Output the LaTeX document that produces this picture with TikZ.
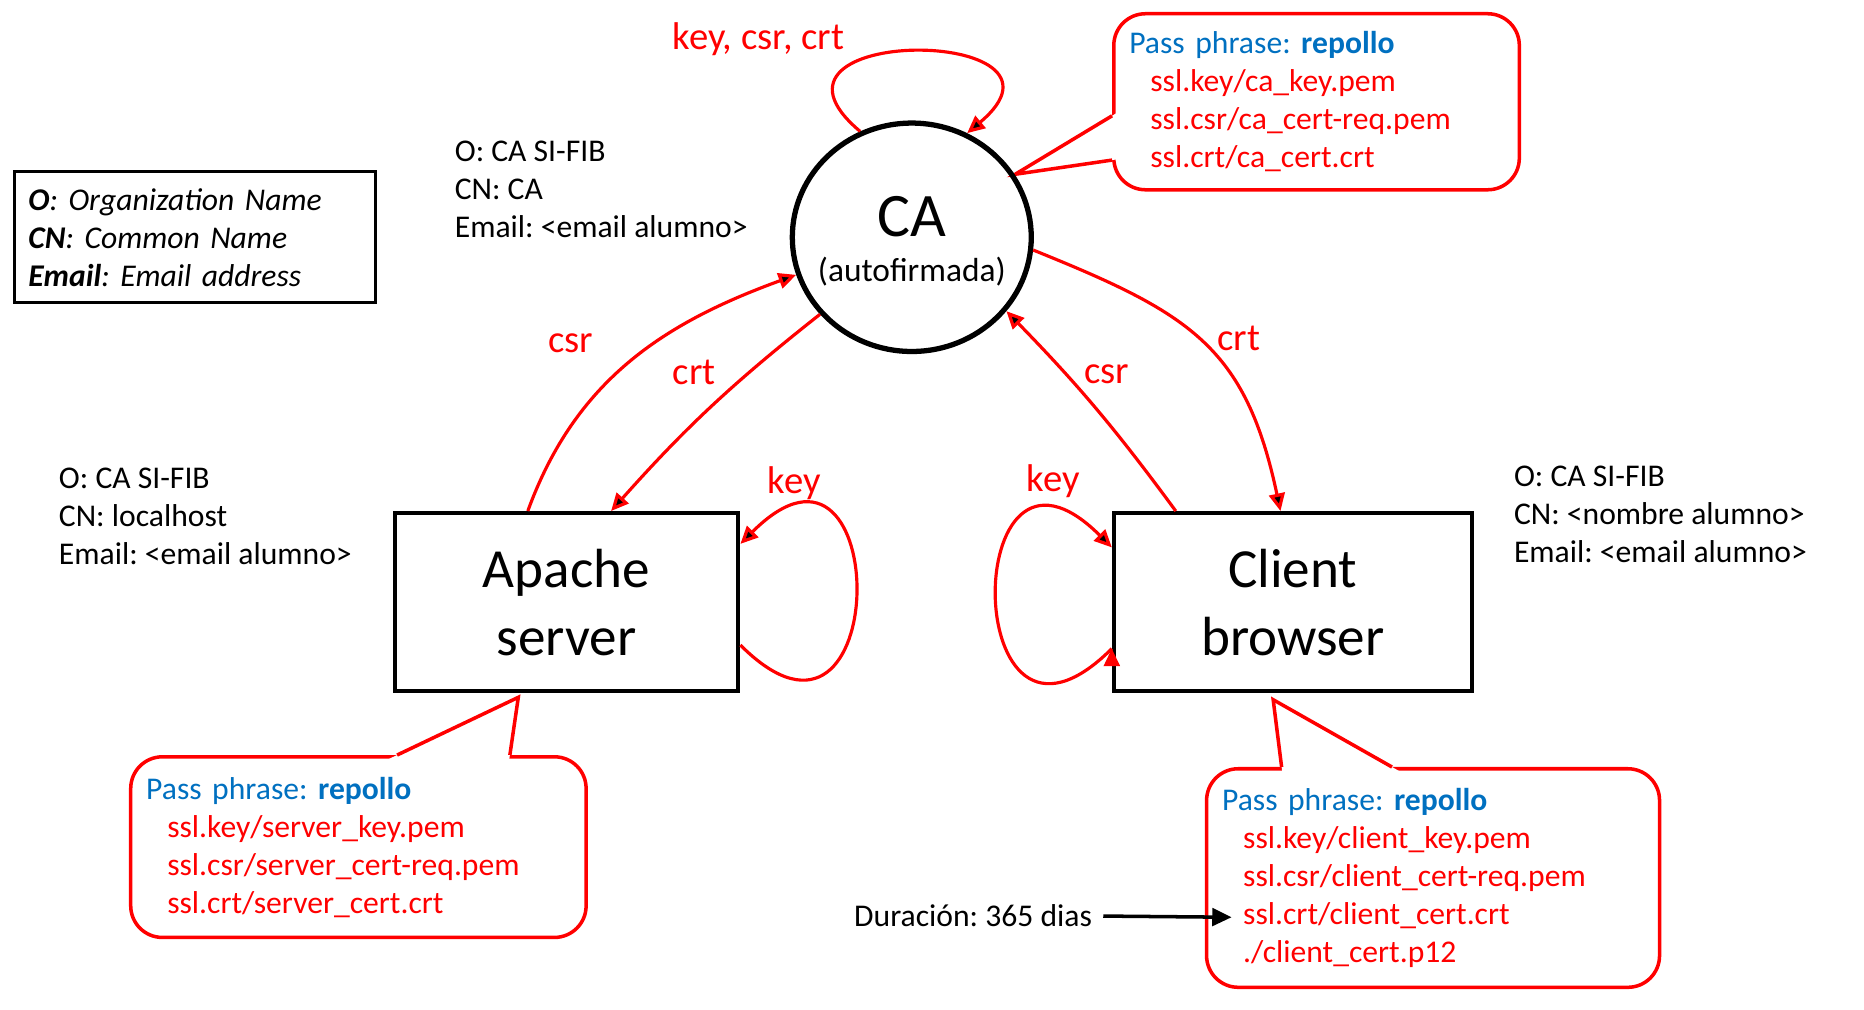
\documentclass[tikz,border=0pt]{standalone}
\usepackage{fontspec}
\setmainfont{Carlito}
\usetikzlibrary{arrows.meta,shapes.geometric,positioning,calc}
\definecolor{certred}{RGB}{255,0,0}
\definecolor{passblue}{RGB}{0,112,192}
\tikzset{>={Triangle[length=5pt,width=4.5pt]},
  info/.style={align=left,inner sep=0pt,font=\fontsize{9}{10.8}\selectfont},
  host/.style={draw,line width=1.2pt,minimum height=50.7pt,align=center,font=\fontsize{15.7}{19.3}\selectfont},
  flow/.style={->,draw=certred,line width=0.9pt},
  flowlabel/.style={text=certred,inner sep=0pt,font=\fontsize{11}{13}\selectfont},
  callout/.style={draw=certred,line width=1pt,rounded corners=9pt,align=left,inner xsep=4.4pt,text=certred,font=\fontsize{9}{10.8}\selectfont},
  pointer/.style={draw=certred,line width=1pt,line join=miter}}
\newcommand{\passline}{{\color{passblue}Pass phrase: \textbf{repollo}}}
\newcommand{\sslfile}[1]{\hspace*{6pt}#1}
\frenchspacing

\begin{document}
\begin{tikzpicture}[x=0.3383pt,y=0.3383pt]
  \useasboundingbox (0,0) rectangle (1568,849.6);

  \node[draw,line width=0.9pt,minimum width=102.8pt,minimum height=37.2pt,text width=94.8pt,inner xsep=4pt,align=left,font=\fontsize{9}{10.8}\selectfont\itshape] (legend) at (164,650)
    {\textbf{O}: Organization Name\\ \textbf{CN}: Common Name\\ \textbf{Email}: Email address};

  \node[info,anchor=west] (cainfo) at (382,690) {O: CA SI-FIB\\ CN: CA\\ Email: <email alumno>};
  \node[info,anchor=west] (apacheinfo) at (49,415) {O: CA SI-FIB\\ CN: localhost\\ Email: <email alumno>};
  \node[info,anchor=west] (clientinfo) at (1273,417) {O: CA SI-FIB\\ CN: <nombre alumno>\\ Email: <email alumno>};

  % callouts
  \node[callout,minimum height=50.1pt,text width=106.6pt] (cacall) at (1107.5,764)
    {\passline\\ \sslfile{ssl.key/ca\_key.pem}\\ \sslfile{ssl.csr/ca\_cert-req.pem}\\ \sslfile{ssl.crt/ca\_cert.crt}};
  \node[callout,minimum height=51.4pt,text width=120.8pt] (apachecall) at (301.5,137)
    {\passline\\ \sslfile{ssl.key/server\_key.pem}\\ \sslfile{ssl.csr/server\_cert-req.pem}\\ \sslfile{ssl.crt/server\_cert.crt}};
  \node[callout,minimum height=62.2pt,text width=120.1pt] (clientcall) at (1205.5,111)
    {\passline\\ \sslfile{ssl.key/client\_key.pem}\\ \sslfile{ssl.csr/client\_cert-req.pem}\\ \sslfile{ssl.crt/client\_cert.crt}\\ \sslfile{./client\_cert.p12}};

  \coordinate (catip) at (854,703);
  \coordinate (cab1) at ([yshift=-4pt]cacall.west);
  \coordinate (cab2) at ([yshift=-16.6pt]cacall.west);
  \coordinate (apachetip) at (436,263);
  \coordinate (apacheb1) at ([xshift=11pt]apachecall.north);
  \coordinate (apacheb2) at ([xshift=43.1pt]apachecall.north);
  \coordinate (clienttip) at (1071,261);
  \coordinate (clientb1) at ([xshift=-43.1pt]clientcall.north);
  \coordinate (clientb2) at ([xshift=-11.7pt]clientcall.north);
  \foreach \c in {ca,apache,client}{
    \fill[white] ($(\c b1)!-3pt!(\c tip)$) -- (\c tip) -- ($(\c b2)!-3pt!(\c tip)$) -- cycle;
    \draw[pointer] (\c b1) -- (\c tip) -- (\c b2);
  }

  \node[draw,ellipse,line width=1.5pt,minimum width=68pt,minimum height=65pt,inner sep=0pt] (ca) at (767,650) {};
  \node[font=\fontsize{17.6}{20}\selectfont] (catitle) at (767,667) {CA};
  \node[font=\fontsize{9.5}{11}\selectfont] (casub) at (767,621) {(autofirmada)};

  \node[host,minimum width=97.8pt] (apache) at (476.5,343) {Apache\\server};
  \node[host,minimum width=101.8pt] (client) at (1087.5,343) {Client\\browser};

  \path[flow]
    (ca.116) edge[out=140,in=40,looseness=4] (ca.62)
    ([xshift=-11pt]apache.north) edge[out=70,in=200] (ca.198)
    (ca.220) edge[bend right=5] ([xshift=12.7pt]apache.north)
    ([xshift=-33.3pt]client.north) edge[bend right=4] (ca.322)
    (ca.354) edge[out=-22,in=102,looseness=1.2] ([xshift=-3.5pt]client.north)
    ([yshift=-12.2pt]apache.east) edge[out=-45,in=45,looseness=5.5] ([yshift=16.6pt]apache.east)
    ([yshift=-13.2pt]client.west) edge[out=-135,in=135,looseness=5.5] ([yshift=15.6pt]client.west)
    ;

  \node[flowlabel] (lblself) at (638,817) {key, csr, crt};
  \node[flowlabel] (lblcsra) at (480,561) {csr};
  \node[flowlabel] (lblcrta) at (584,536) {crt};
  \node[flowlabel] (lblkeya) at (668,443) {key};
  \node[flowlabel] (lblkeyc) at (886,445) {key};
  \node[flowlabel] (lblcsrc) at (931,535) {csr};
  \node[flowlabel] (lblcrtc) at (1042,565) {crt};

  \node[info,anchor=west] (duracion) at (718,79) {Duración: 365 dias};
  \coordinate (crtfile) at (1036,78);
  \draw[->,>={Triangle[length=5.5pt,width=5pt]},line width=1pt] ([xshift=3pt]duracion.east) -- (crtfile);
\end{tikzpicture}
\end{document}
